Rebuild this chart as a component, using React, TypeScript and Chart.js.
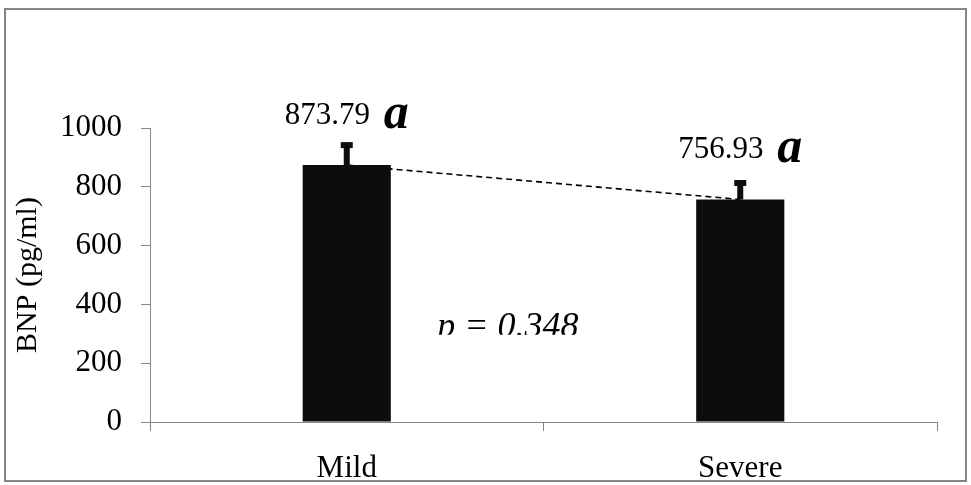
import React, { useEffect, useRef } from "react";
import { Chart, registerables } from "chart.js";

Chart.register(...registerables);

const categories = ["Mild", "Severe"];
const bnpMeans = [873.79, 756.93];
const bnpErrors = [68, 56];
const letters = ["a", "a"];
const yMin = 0;
const yMax = 1000;
const yStep = 200;
const yTitle = "BNP (pg/ml)";
const pLabel = "p = 0.348";

const SERIF = "'Liberation Serif', 'Times New Roman', serif";

const extrasPlugin = {
  id: "extras",
  afterDatasetsDraw(chart: any) {
    const ctx = chart.ctx;
    const meta = chart.getDatasetMeta(1);
    const yScale = chart.scales.y;
    const xScale = chart.scales.x;
    ctx.save();
    meta.data.forEach((el: any, i: number) => {
      const x = el.x;
      const yTop = el.y;
      const yErr = yScale.getPixelForValue(bnpMeans[i] + bnpErrors[i]);
      ctx.fillStyle = "#0d0d0d";
      ctx.fillRect(x - 3, yErr, 6, yTop - yErr);
      ctx.fillRect(x - 6, yErr - 3, 12, 6);
      ctx.fillStyle = "#000";
      ctx.textAlign = "left";
      ctx.textBaseline = "alphabetic";
      ctx.font = `31px ${SERIF}`;
      ctx.fillText(bnpMeans[i].toFixed(2), x - 62, yTop - 41);
      ctx.font = `bold italic 50px ${SERIF}`;
      ctx.fillText(letters[i], x + 37, yTop - 37);
    });
    const px = xScale.getPixelForValue(0.23);
    const py = yScale.getPixelForValue(288);
    const clipY = yScale.getPixelForValue(297);
    ctx.save();
    ctx.beginPath();
    ctx.rect(0, 0, chart.width, clipY);
    ctx.clip();
    ctx.fillStyle = "#000";
    ctx.font = `italic 36px ${SERIF}`;
    ctx.textAlign = "left";
    ctx.fillText(pLabel, px, py);
    ctx.restore();
    ctx.restore();
  },
  afterDraw(chart: any) {
    const ctx = chart.ctx;
    ctx.save();
    ctx.strokeStyle = "#858585";
    ctx.lineWidth = 2;
    ctx.strokeRect(5, 9, 961, 472);
    ctx.restore();
  },
};

export default function App() {
  const ref = useRef<HTMLCanvasElement | null>(null);
  useEffect(() => {
    if (!ref.current) return;
    const chart = new Chart(ref.current, {
      type: "bar",
      data: {
        labels: categories,
        datasets: [
          {
            type: "line",
            data: bnpMeans,
            borderColor: "#000",
            borderWidth: 1.6,
            borderDash: [6, 4],
            pointRadius: 0,
            fill: false,
            order: 1,
          } as any,
          {
            type: "bar",
            data: bnpMeans,
            backgroundColor: "#0d0d0d",
            barPercentage: 0.224,
            categoryPercentage: 1,
            order: 0,
          },
        ],
      },
      options: {
        responsive: false,
        animation: false,
        devicePixelRatio: 1,
        layout: { padding: { top: 128, right: 34, bottom: 0, left: 0 } },
        plugins: { legend: { display: false }, tooltip: { enabled: false } },
        scales: {
          x: {
            offset: true,
            grid: { offset: true, drawOnChartArea: false, tickLength: 9, color: "#868686" },
            border: { color: "#868686" },
            ticks: { color: "#000", font: { family: SERIF, size: 31 }, padding: 19 },
            afterFit: (s: any) => {
              s.height = 63;
            },
          },
          y: {
            min: yMin,
            max: yMax,
            ticks: {
              stepSize: yStep,
              color: "#000",
              font: { family: SERIF, size: 31 },
              padding: 19,
              callback: (v: any) => String(v),
            },
            grid: { drawOnChartArea: false, tickLength: 9, color: "#868686" },
            border: { color: "#868686" },
            title: {
              display: true,
              text: yTitle,
              color: "#000",
              font: { family: SERIF, size: 30 },
              padding: { top: 10, bottom: 0 },
            },
            afterFit: (s: any) => {
              s.width = 150;
            },
          },
        },
      } as any,
      plugins: [extrasPlugin],
    });
    return () => chart.destroy();
  }, []);
  return (
    <div style={{ position: "absolute", left: 0, top: 0, width: 971, height: 485, background: "#fff" }}>
      <canvas ref={ref} width={971} height={485} style={{ display: "block" }} />
    </div>
  );
}
